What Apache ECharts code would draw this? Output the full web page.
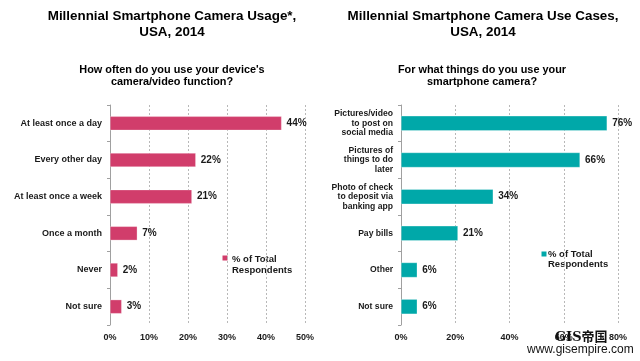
<!DOCTYPE html>
<html><head><meta charset="utf-8">
<script src="https://cdn.jsdelivr.net/npm/echarts@6/dist/echarts.min.js"></script>
<style>html,body{margin:0;padding:0;background:#fff}#c{width:640px;height:361px}</style>
</head><body><div id="c"></div>
<script>
const leftCategories = ['At least once a day','Every other day','At least once a week','Once a month','Never','Not sure'];
const leftValues = [44, 22, 21, 7, 2, 3];
const leftTicks = [0, 10, 20, 30, 40, 50];
const rightCategories = ['Pictures/video\nto post on\nsocial media','Pictures of\nthings to do\nlater','Photo of check\nto deposit via\nbanking app','Pay bills','Other','Not sure'];
const rightValues = [76, 66, 34, 21, 6, 6];
const rightTicks = [0, 20, 40, 60, 80];
const seriesName = '% of Total\nRespondents';

const FONT = '"Liberation Sans", Arial, sans-serif';
const chart = echarts.init(document.getElementById('c'), null, {renderer:'canvas'});
const lab = {fontFamily: FONT, fontWeight:'bold', fontSize:9, color:'#1a1a1a'};
function xAx(idx, ticks){
  const interval = ticks[1]-ticks[0];
  return {gridIndex: idx, type:'value', min:ticks[0], max:ticks[ticks.length-1], interval:interval,
    axisLine:{show:false}, axisTick:{show:false},
    axisLabel:Object.assign({formatter:'{value}%', margin:8}, lab),
    splitLine:{show:true, lineStyle:{type:[2,2], color:'#b8b8b8', width:1}}};
}
function yAx(idx, cats, size){
  return {gridIndex: idx, type:'category', data:cats, inverse:true,
    axisLine:{show:true, lineStyle:{color:'#a0a0a0', width:1}},
    axisTick:{show:true, length:3, lineStyle:{color:'#a0a0a0'}},
    axisLabel:Object.assign({}, lab, {margin:8, lineHeight:9.5, align:'right', fontSize:size})};
}
function bar(idx, vals, color, bw){
  return {name: seriesName + (idx?' ':''), type:'bar', xAxisIndex:idx, yAxisIndex:idx, data:vals, barWidth:bw,
    itemStyle:{color:color, borderColor:'rgba(255,255,255,0.6)', borderWidth:0.5},
    label:{show:true, position:'right', distance:5, formatter:'{c}%', fontFamily:FONT, fontWeight:'bold', fontSize:10, color:'#1a1a1a'}};
}
const titleStyle = (x,y,text,size,lh)=>({type:'text', x:x, y:y, style:{text:text, x:0, y:0, align:'center', verticalAlign:'top', font:'bold '+size+'px '+FONT, lineHeight:lh, fill:'#000'}});
chart.setOption({
  animation:false,
  grid:[{left:110, width:195, top:105, bottom:36}, {left:401, width:217, top:105, bottom:36}],
  xAxis:[xAx(0, leftTicks), xAx(1, rightTicks)],
  yAxis:[yAx(0, leftCategories, 9), yAx(1, rightCategories, 8.6)],
  series:[bar(0, leftValues, '#D13D6B', 14), bar(1, rightValues, '#00A8A9', 15)],
  graphic:[
    titleStyle(172, 8, 'Millennial Smartphone Camera Usage*,\nUSA, 2014', 13.4, 16),
    titleStyle(483, 8, 'Millennial Smartphone Camera Use Cases,\nUSA, 2014', 13.4, 16),
    titleStyle(172, 64, 'How often do you use your device\'s\ncamera/video function?', 10.9, 12),
    titleStyle(482, 64, 'For what things do you use your\nsmartphone camera?', 10.9, 12),
    {type:'rect', shape:{x:222.5, y:255.5, width:5, height:5}, style:{fill:'#D13D6B'}},
    {type:'text', style:{x:232, y:253.5, text:seriesName, font:'bold 9.5px '+FONT, lineHeight:11, fill:'#1a1a1a', verticalAlign:'top'}},
    {type:'rect', shape:{x:541.5, y:251.5, width:5, height:5}, style:{fill:'#00A8A9'}},
    {type:'text', style:{x:548, y:249, text:seriesName, font:'bold 9.5px '+FONT, lineHeight:10.5, fill:'#1a1a1a', verticalAlign:'top'}},
    {type:'text', z:100, style:{x:555, y:331, text:'GIS帝国', font:'bold 13px "DejaVu Serif", "Noto Sans CJK SC", serif', fill:'#111', verticalAlign:'top'}},
    {type:'text', z:100, style:{x:527, y:344, text:'www.gisempire.com', font:'12px '+FONT, fill:'#111', verticalAlign:'top'}}
  ]
});
</script></body></html>
